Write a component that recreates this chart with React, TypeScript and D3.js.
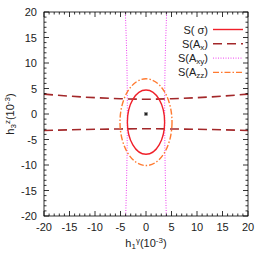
import * as d3 from "d3";

// axis ticks
const majorTicks = [-20, -15, -10, -5, 0, 5, 10, 15, 20];
const minorTicks = d3.range(-20, 21, 1);

// S(sigma) and S(Azz) ellipses: [cx, cy, rx, ry]
const sigmaEllipse = [0, -1.6, 3.65, 6.3];
const azzEllipse = [0, -1.6, 5.1, 8.5];

// S(Ax) dashed curves
const axX = [-20, -15, -10, -5, 0, 5, 10, 15, 20];
const axUpper = [3.9, 3.5, 3.2, 3.0, 2.9, 3.0, 3.2, 3.5, 3.9];
const axLower = [-3.25, -3.1, -3.0, -2.93, -2.9, -2.93, -3.0, -3.1, -3.25];

// S(Axy) dotted curves
const axyY = [-20, -10, 0, 10, 20];
const axyRight = [3.98, 3.75, 3.67, 3.75, 4.05];
const axyLeft = [-3.98, -3.75, -3.67, -3.75, -4.05];

// best point
const bestPoint = [0, 0];

const legendItems = ["sigma", "Ax", "Axy", "Azz"];

const W = 267;
const H = 260;
const left = 44, right = 248, top = 12, bottom = 216;
const font = "'Liberation Sans', Arial, sans-serif";

export default function App() {
  const x = d3.scaleLinear().domain([-20, 20]).range([left, right]);
  const y = d3.scaleLinear().domain([-20, 20]).range([bottom, top]);

  const lineXY = d3.line<[number, number]>().x(d => x(d[0])).y(d => y(d[1])).curve(d3.curveNatural);

  const upper = lineXY(axX.map((v, i) => [v, axUpper[i]] as [number, number]));
  const lower = lineXY(axX.map((v, i) => [v, axLower[i]] as [number, number]));
  const vRight = lineXY(axyY.map((v, i) => [axyRight[i], v] as [number, number]));
  const vLeft = lineXY(axyY.map((v, i) => [axyLeft[i], v] as [number, number]));

  const styles: Record<string, { stroke: string; dash?: string; w: number }> = {
    sigma: { stroke: "#f0202a", w: 1.4 },
    Ax: { stroke: "#a3282a", dash: "9,5", w: 1.6 },
    Axy: { stroke: "#f040f0", dash: "1,1.5", w: 1 },
    Azz: { stroke: "#ff7a30", dash: "6,2,1.5,2", w: 1.4 },
  };

  const legendLabel = (k: string) => {
    if (k === "sigma") return <>S( σ)</>;
    const sub = k.slice(1);
    return (
      <>
        S(A<tspan baselineShift="-30%" fontSize={8}>{sub}</tspan>)
      </>
    );
  };

  return (
    <svg width={W} height={H} style={{ position: "absolute", left: 0, top: 0 }}>
      <rect width={W} height={H} fill="white" />
      <defs>
        <clipPath id="plotclip">
          <rect x={left} y={top} width={right - left} height={bottom - top} />
        </clipPath>
      </defs>
      <g clipPath="url(#plotclip)" fill="none">
        <path d={upper!} stroke={styles.Ax.stroke} strokeWidth={styles.Ax.w} strokeDasharray={styles.Ax.dash} />
        <path d={lower!} stroke={styles.Ax.stroke} strokeWidth={styles.Ax.w} strokeDasharray={styles.Ax.dash} />
        <path d={vRight!} stroke={styles.Axy.stroke} strokeWidth={styles.Axy.w} strokeDasharray={styles.Axy.dash} />
        <path d={vLeft!} stroke={styles.Axy.stroke} strokeWidth={styles.Axy.w} strokeDasharray={styles.Axy.dash} />
        <ellipse
          cx={x(azzEllipse[0])}
          cy={y(azzEllipse[1])}
          rx={x(azzEllipse[2]) - x(0)}
          ry={y(0) - y(azzEllipse[3])}
          stroke={styles.Azz.stroke}
          strokeWidth={styles.Azz.w}
          strokeDasharray={styles.Azz.dash}
        />
        <ellipse
          cx={x(sigmaEllipse[0])}
          cy={y(sigmaEllipse[1])}
          rx={x(sigmaEllipse[2]) - x(0)}
          ry={y(0) - y(sigmaEllipse[3])}
          stroke={styles.sigma.stroke}
          strokeWidth={styles.sigma.w}
        />
        <rect x={x(bestPoint[0]) - 1.5} y={y(bestPoint[1]) - 1.5} width={3} height={3} fill="#222" stroke="#888" strokeWidth={0.5} />
      </g>

      {/* frame and ticks */}
      <g stroke="#000" strokeWidth={0.8} fill="none">
        <rect x={left} y={top} width={right - left} height={bottom - top} />
        {minorTicks.map(t => {
          const len = majorTicks.includes(t) ? 5 : 2.5;
          return (
            <g key={t}>
              <line x1={x(t)} x2={x(t)} y1={bottom} y2={bottom - len} />
              <line x1={x(t)} x2={x(t)} y1={top} y2={top + len} />
              <line x1={left} x2={left + len} y1={y(t)} y2={y(t)} />
              <line x1={right} x2={right - len} y1={y(t)} y2={y(t)} />
            </g>
          );
        })}
      </g>

      <g fontFamily={font} fontSize={11} fill="#222">
        {majorTicks.map(t => (
          <text key={"x" + t} x={x(t)} y={bottom + 15} textAnchor="middle">
            {t}
          </text>
        ))}
        {majorTicks.map(t => (
          <text key={"y" + t} x={left - 7} y={y(t) + 4} textAnchor="end">
            {t}
          </text>
        ))}
        <text x={x(0)} y={247} textAnchor="middle">
          h<tspan baselineShift="-30%" fontSize={8}>1</tspan>
          <tspan baselineShift="45%" fontSize={8}>γ</tspan>(10<tspan baselineShift="45%" fontSize={8}>-3</tspan>)
        </text>
        <text transform={`translate(14,${y(0)}) rotate(-90)`} textAnchor="middle">
          h<tspan baselineShift="-30%" fontSize={8}>3</tspan>
          <tspan baselineShift="45%" fontSize={8}>z</tspan>(10<tspan baselineShift="45%" fontSize={8}>-3</tspan>)
        </text>

        {legendItems.map((k, i) => {
          const ly = 29.5 + i * 14.3;
          const s = styles[k];
          return (
            <g key={k}>
              <text x={208} y={ly + 4} textAnchor="end">
                {legendLabel(k)}
              </text>
              <line x1={213} x2={243} y1={ly} y2={ly} stroke={s.stroke} strokeWidth={s.w} strokeDasharray={s.dash} />
            </g>
          );
        })}
      </g>
    </svg>
  );
}
